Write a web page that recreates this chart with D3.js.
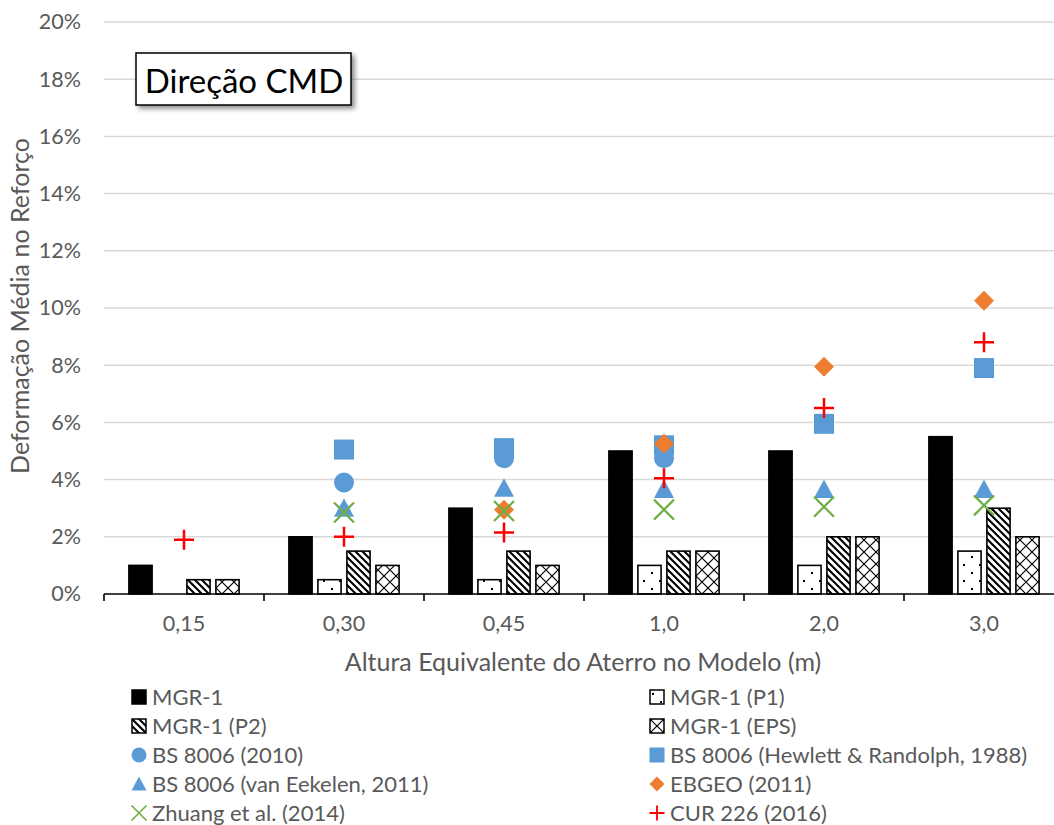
<!DOCTYPE html>
<html><head><meta charset="utf-8">
<script src="https://cdn.jsdelivr.net/npm/d3@7/dist/d3.min.js"></script>
<style>
html,body{margin:0;padding:0;background:#fff;}
svg{display:block;font-family:Lato,"Open Sans",sans-serif;}
</style></head>
<body><svg id="chart" width="1054" height="825"></svg>
<script>
const categories = ["0,15","0,30","0,45","1,0","2,0","3,0"];
const barSeries = ["MGR-1","MGR-1 (P1)","MGR-1 (P2)","MGR-1 (EPS)"];
const mgr1    = [1.0, 2.0, 3.0, 5.0, 5.0, 5.5];
const mgr1P1  = [null, 0.5, 0.5, 1.0, 1.0, 1.5];
const mgr1P2  = [0.5, 1.5, 1.5, 1.5, 2.0, 3.0];
const mgr1EPS = [0.5, 1.0, 1.0, 1.5, 2.0, 2.0];
const bs2010     = [null, 3.9, 4.75, 4.75, null, null];
const bsHewlett  = [null, 5.05, 5.1, 5.2, 5.95, 7.9];
const bsEekelen  = [null, 3.0, 3.7, 3.65, 3.65, 3.65];
const ebgeo      = [null, null, 2.95, 5.25, 7.95, 10.25];
const zhuang     = [null, 2.85, 2.9, 2.95, 3.05, 3.1];
const cur226     = [1.9, 2.0, 2.15, 4.05, 6.5, 8.8];
const yTicks = [0,2,4,6,8,10,12,14,16,18,20];

const svg = d3.select("#chart");
const defs = svg.append("defs");
// patterns
const pP1 = defs.append("pattern").attr("id","pP1").attr("patternUnits","userSpaceOnUse").attr("width",16).attr("height",16);
pP1.append("rect").attr("width",16).attr("height",16).attr("fill","#fff");
pP1.append("rect").attr("x",3).attr("y",4).attr("width",2).attr("height",2).attr("fill","#000");
pP1.append("rect").attr("x",11).attr("y",12).attr("width",2).attr("height",2).attr("fill","#000");
const pP2 = defs.append("pattern").attr("id","pP2").attr("patternUnits","userSpaceOnUse").attr("width",7).attr("height",7);
pP2.append("rect").attr("width",7).attr("height",7).attr("fill","#fff");
pP2.append("path").attr("d","M-1,-1 L8,8 M-8,-1 L1,8 M6,-1 L15,8").attr("stroke","#000").attr("stroke-width",2.1);
const pEPS = defs.append("pattern").attr("id","pEPS").attr("patternUnits","userSpaceOnUse").attr("width",12).attr("height",12);
pEPS.append("rect").attr("width",12).attr("height",12).attr("fill","#fff");
pEPS.append("path").attr("d","M0,0 L12,12 M12,0 L0,12").attr("stroke","#000").attr("stroke-width",1.2);
const f = defs.append("filter").attr("id","shadow").attr("x","-10%").attr("y","-20%").attr("width","130%").attr("height","160%");
f.append("feDropShadow").attr("dx",3).attr("dy",3).attr("stdDeviation",2.5).attr("flood-color","#000").attr("flood-opacity",0.45);

const pLeft = 104, pRight = 1064, pTop = 22, pBottom = 594;
const x = d3.scaleBand().domain(categories).range([pLeft, pRight]).padding(0);
const xs = d3.scaleBand().domain(barSeries).range([22, 138]).paddingInner(0.2).paddingOuter(0.1);
const y = d3.scaleLinear().domain([0,20]).range([pBottom, pTop]);

// gridlines
svg.append("g").selectAll("line").data(yTicks.filter(d=>d>0)).join("line")
  .attr("x1",pLeft).attr("x2",pRight).attr("y1",d=>y(d)).attr("y2",d=>y(d))
  .attr("stroke","#d9d9d9").attr("stroke-width",1.5);

// y axis labels
const yAxis = d3.axisLeft(y).tickValues(yTicks).tickFormat(d=>d+"%").tickSize(0).tickPadding(0);
const gy = svg.append("g").attr("transform",`translate(${pLeft-23},0)`).call(yAxis);
gy.select(".domain").remove();
gy.selectAll("text").attr("fill","#595959").attr("font-size",21.5).attr("font-family","Lato,'Open Sans',sans-serif");

// bars
const barData = [
  {name:barSeries[0], vals:mgr1, fill:"#000"},
  {name:barSeries[1], vals:mgr1P1, fill:"url(#pP1)"},
  {name:barSeries[2], vals:mgr1P2, fill:"url(#pP2)"},
  {name:barSeries[3], vals:mgr1EPS, fill:"url(#pEPS)"}
];
barData.forEach(s=>{
  svg.append("g").selectAll("rect").data(s.vals.map((v,i)=>({v,c:categories[i]})).filter(d=>d.v!=null)).join("rect")
    .attr("x",d=>x(d.c)+xs(s.name)).attr("width",xs.bandwidth())
    .attr("y",d=>y(d.v)).attr("height",d=>pBottom-y(d.v))
    .attr("fill",s.fill).attr("stroke","#000").attr("stroke-width",1.6);
});

// x axis
const xAxis = d3.axisBottom(x).tickSize(0).tickPadding(0);
const gx = svg.append("g").attr("transform",`translate(0,${pBottom})`).call(xAxis);
gx.select(".domain").remove();
gx.selectAll("text").attr("fill","#595959").attr("font-size",21.5).attr("y",37).attr("dy",0).attr("font-family","Lato,'Open Sans',sans-serif");
svg.append("line").attr("x1",pLeft).attr("x2",pRight).attr("y1",pBottom).attr("y2",pBottom).attr("stroke","#000").attr("stroke-width",1.6);
const bounds = categories.map(c=>x(c)).concat([pRight]);
svg.append("g").selectAll("line").data(bounds).join("line")
  .attr("x1",d=>d).attr("x2",d=>d).attr("y1",pBottom).attr("y2",pBottom+7).attr("stroke","#000").attr("stroke-width",1.6);

// markers
const cx = c => x(c) + x.bandwidth()/2;
const markerSeries = [
  {name:"BS 8006 (2010)", vals:bs2010, type:"circle", color:"#5B9BD5"},
  {name:"BS 8006 (Hewlett & Randolph, 1988)", vals:bsHewlett, type:"square", color:"#5B9BD5"},
  {name:"BS 8006 (van Eekelen, 2011)", vals:bsEekelen, type:"triangle", color:"#5B9BD5"},
  {name:"EBGEO (2011)", vals:ebgeo, type:"diamond", color:"#ED7D31"},
  {name:"Zhuang et al. (2014)", vals:zhuang, type:"x", color:"#70AD47"},
  {name:"CUR 226 (2016)", vals:cur226, type:"plus", color:"#FF0000"}
];
function drawMarker(g, type, color, s){
  const h = s/2;
  if(type==="circle") g.append("circle").attr("r",h).attr("fill",color);
  else if(type==="square") g.append("rect").attr("x",-h).attr("y",-h).attr("width",s).attr("height",s).attr("fill",color);
  else if(type==="triangle") g.append("path").attr("d",`M0,${-h} L${h},${h*0.85} L${-h},${h*0.85} Z`).attr("fill",color);
  else if(type==="diamond") g.append("path").attr("d",`M0,${-h} L${h},0 L0,${h} L${-h},0 Z`).attr("fill",color);
  else if(type==="x") g.append("path").attr("d",`M${-h},${-h} L${h},${h} M${h},${-h} L${-h},${h}`).attr("stroke",color).attr("stroke-width",s/9).attr("fill","none");
  else if(type==="plus") g.append("path").attr("d",`M${-h},0 L${h},0 M0,${-h} L0,${h}`).attr("stroke",color).attr("stroke-width",s/8).attr("fill","none");
}
markerSeries.forEach(s=>{
  s.vals.forEach((v,i)=>{
    if(v==null) return;
    const g = svg.append("g").attr("transform",`translate(${cx(categories[i])},${y(v)})`);
    drawMarker(g, s.type, s.color, 20);
  });
});

// axis titles
svg.append("text").attr("x",583).attr("y",671).attr("text-anchor","middle")
  .attr("fill","#595959").attr("font-size",25).text("Altura Equivalente do Aterro no Modelo (m)");
svg.append("text").attr("transform","translate(29,306) rotate(-90)").attr("text-anchor","middle")
  .attr("fill","#595959").attr("font-size",25).text("Deformação Média no Reforço");

// annotation box
svg.append("rect").attr("x",136).attr("y",53).attr("width",215).attr("height",52)
  .attr("fill","#fff").attr("stroke","#000").attr("stroke-width",1.5).attr("filter","url(#shadow)");
svg.append("text").attr("x",244).attr("y",93).attr("text-anchor","middle").attr("fill","#000")
  .attr("font-size",33).text("Direção CMD");

// legend
const legendItems = [
  {name:barSeries[0], kind:"bar", fill:"#000"},
  {name:barSeries[1], kind:"bar", fill:"url(#pP1)"},
  {name:barSeries[2], kind:"bar", fill:"url(#pP2)"},
  {name:barSeries[3], kind:"bar", fill:"url(#pEPS)"}
].concat(markerSeries.map(m=>({name:m.name, kind:"marker", type:m.type, color:m.color})));
legendItems.forEach((it,i)=>{
  const col = i%2, row = Math.floor(i/2);
  const mx = col===0 ? 139 : 657;
  const my = 697 + row*29;
  const g = svg.append("g").attr("transform",`translate(${mx},${my})`);
  if(it.kind==="bar"){
    g.append("rect").attr("x",-7).attr("y",-7).attr("width",14).attr("height",14)
      .attr("fill",it.fill).attr("stroke","#000").attr("stroke-width",1.5);
  } else {
    drawMarker(g, it.type, it.color, 15);
  }
  svg.append("text").attr("x",mx+13).attr("y",my).attr("dy","0.35em")
    .attr("fill","#595959").attr("font-size",22).text(it.name);
});
</script></body></html>
